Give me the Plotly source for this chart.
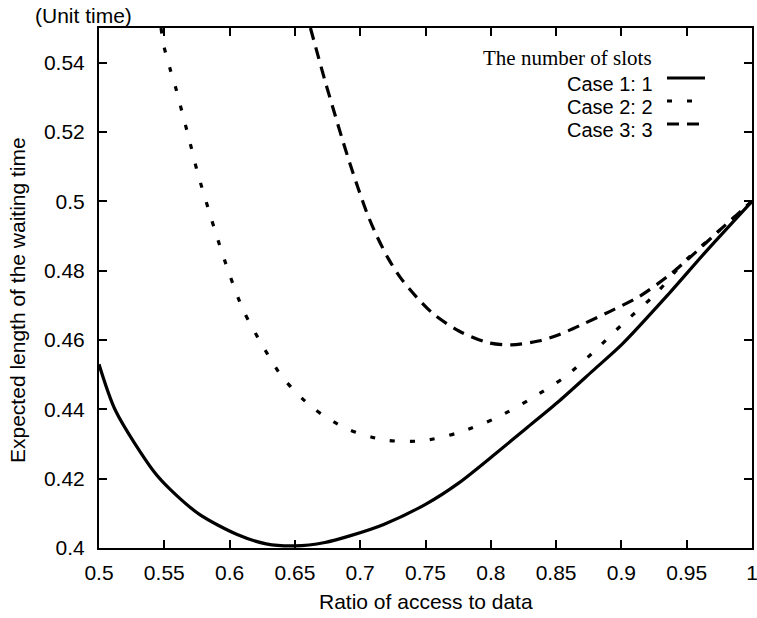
import plotly.graph_objects as go

# Case 1: 1 slot (solid)
case1_x = [0.5, 0.5128, 0.5417, 0.5545, 0.5769, 0.6058, 0.628, 0.65, 0.673, 0.692,
           0.718, 0.75, 0.7756, 0.8045, 0.827, 0.8526, 0.878, 0.9006, 0.936, 0.9647, 1.0]
case1_y = [0.453, 0.4395, 0.4222, 0.4169, 0.4097, 0.4039, 0.4012, 0.4006, 0.4016, 0.4035,
           0.4068, 0.4126, 0.4188, 0.4275, 0.4345, 0.4425, 0.4511, 0.4588, 0.4732, 0.4855, 0.5]

# Case 2: 2 slots (dotted)
case2_x = [0.5475, 0.5497, 0.5545, 0.5593, 0.5641, 0.569, 0.5753, 0.584, 0.5897, 0.5994,
           0.6106, 0.6266, 0.641, 0.6635, 0.6891, 0.718, 0.7468, 0.7756, 0.8045, 0.830,
           0.8558, 0.878, 0.9006, 0.926, 0.9487, 0.9744, 1.0]
case2_y = [0.55, 0.5448, 0.5381, 0.5320, 0.5250, 0.5180, 0.5085, 0.4975, 0.4905, 0.4795,
           0.4685, 0.4575, 0.4490, 0.4405, 0.4345, 0.4312, 0.4309, 0.4333, 0.4376, 0.4429,
           0.4491, 0.4563, 0.4645, 0.4732, 0.4828, 0.4914, 0.5]

# Case 3: 3 slots (dashed)
case3_x = [0.6619, 0.6667, 0.6731, 0.6795, 0.6859, 0.6923, 0.6987, 0.7051, 0.7115, 0.7212,
           0.7308, 0.7436, 0.7564, 0.7756, 0.7981, 0.8157, 0.8365, 0.8526, 0.8718, 0.891,
           0.9135, 0.9359, 0.9551, 0.9744, 1.0]
case3_y = [0.55, 0.5434, 0.5347, 0.5265, 0.5184, 0.5107, 0.5035, 0.4967, 0.4910, 0.4837,
           0.4780, 0.4722, 0.4674, 0.4626, 0.4592, 0.4586, 0.4597, 0.4616, 0.4648, 0.4682,
           0.4725, 0.4785, 0.4847, 0.4914, 0.5]

x_ticks = [0.5, 0.55, 0.6, 0.65, 0.7, 0.75, 0.8, 0.85, 0.9, 0.95, 1.0]
x_tick_labels = ["0.5", "0.55", "0.6", "0.65", "0.7", "0.75", "0.8", "0.85", "0.9", "0.95", "1"]
y_ticks = [0.4, 0.42, 0.44, 0.46, 0.48, 0.5, 0.52, 0.54]
y_tick_labels = ["0.4", "0.42", "0.44", "0.46", "0.48", "0.5", "0.52", "0.54"]

legend_names = ["Case 1: 1", "Case 2: 2", "Case 3: 3"]
dashes = ["solid", "5px,15px", "12px,8px"]

SANS = "Liberation Sans, Arial, sans-serif"
SERIF = "Liberation Serif, Times New Roman, serif"
FS = 21

fig = go.Figure()
for xs, ys, name, d in zip([case1_x, case2_x, case3_x], [case1_y, case2_y, case3_y], legend_names, dashes):
    fig.add_trace(go.Scatter(x=xs, y=ys, mode="lines", name=name, showlegend=False, cliponaxis=True,
                             line=dict(color="black", width=3.2, dash=d, shape="spline", smoothing=0.8)))

axis_common = dict(showgrid=False, zeroline=False, showline=True, linecolor="black", linewidth=2,
                   mirror="ticks", ticks="inside", ticklen=8, tickwidth=1.5, tickcolor="black",
                   automargin=False, ticklabeloverflow="allow",
                   tickfont=dict(family=SANS, size=FS, color="black"))

fig.update_xaxes(range=[0.5, 1.0], tickvals=x_ticks, ticktext=x_tick_labels,
                 ticklabelstandoff=5, **axis_common)
fig.update_yaxes(range=[0.4, 0.55], tickvals=y_ticks, ticktext=y_tick_labels,
                 ticklabelstandoff=8, **axis_common)

# plot area spans (99..752, 28..548) in the 757x618 page
def px_x(p):
    return (p - 99) / 653.0

def px_y(p):
    return (548 - p) / 520.0

annotations = [
    dict(text="Ratio of access to data", x=px_x(426), y=px_y(601), xref="paper", yref="paper",
         showarrow=False, font=dict(family=SANS, size=FS, color="black"), xanchor="center", yanchor="middle"),
    dict(text="Expected length of the waiting time", x=px_x(18), y=px_y(300), xref="paper", yref="paper",
         showarrow=False, textangle=-90, font=dict(family=SANS, size=FS, color="black"),
         xanchor="center", yanchor="middle"),
    dict(text="(Unit time)", x=px_x(83), y=px_y(15), xref="paper", yref="paper", showarrow=False,
         font=dict(family=SANS, size=FS, color="black"), xanchor="center", yanchor="middle"),
    dict(text="The number of slots", x=px_x(654), y=px_y(58), xref="paper", yref="paper", showarrow=False,
         font=dict(family=SERIF, size=FS, color="black"), xanchor="right", yanchor="middle"),
]
shapes = []
leg_rows = [84, 107, 130]
for name, d, row in zip(legend_names, dashes, leg_rows):
    annotations.append(dict(text=name, x=px_x(655), y=px_y(row), xref="paper", yref="paper", showarrow=False,
                            font=dict(family=SANS, size=20, color="black"), xanchor="right", yanchor="middle"))
    shapes.append(dict(type="line", xref="paper", yref="paper", x0=px_x(667), x1=px_x(705),
                       y0=px_y(row - 6), y1=px_y(row - 6),
                       line=dict(color="black", width=3.2, dash=d)))

fig.update_layout(width=757, height=618, margin=dict(l=99, r=5, t=28, b=70, autoexpand=False),
                  plot_bgcolor="white", paper_bgcolor="white",
                  annotations=annotations, shapes=shapes)

fig.write_html("out.html", config={"displayModeBar": False},
               post_script="document.body.style.margin='0px';")
